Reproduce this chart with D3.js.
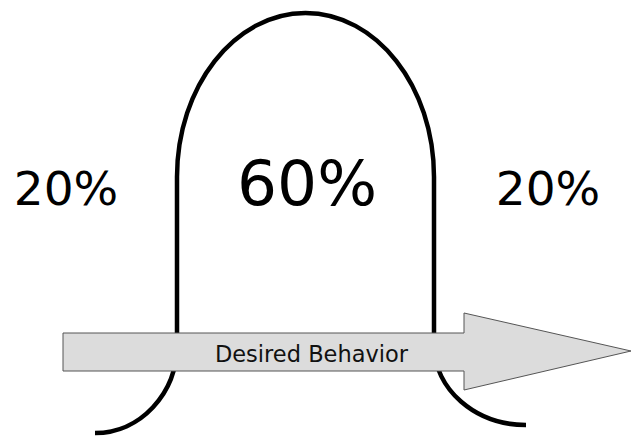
<!DOCTYPE html>
<html>
<head>
<meta charset="utf-8">
<script src="https://cdn.jsdelivr.net/npm/d3@7"></script>
<style>
  html, body { margin: 0; padding: 0; background: #fff; }
  svg { display: block; }
</style>
</head>
<body>
<div id="chart"></div>
<script>
// segments of the population and their shares
const segments = ["left", "middle", "right"];
const shares = [20, 60, 20];
const arrowLabel = "Desired Behavior";

const width = 632;
const height = 437;

const svg = d3.select("#chart")
    .append("svg")
    .attr("width", width)
    .attr("height", height);

// bell outline geometry (pixels)
const bell = {
    left: 177, right: 434, top: 13, shoulder: 177, foot: 345,
    leftEnd: [95, 433], rightEnd: [526, 425]
};
const k = 0.5523;

const p = d3.path();
const cx = (bell.left + bell.right) / 2;
const rx = cx - bell.left;
const ry = bell.shoulder - bell.top;
p.moveTo(bell.leftEnd[0], bell.leftEnd[1]);
p.bezierCurveTo(
    bell.leftEnd[0] + k * (bell.left - bell.leftEnd[0]), bell.leftEnd[1],
    bell.left, bell.foot + k * (bell.leftEnd[1] - bell.foot),
    bell.left, bell.foot);
p.lineTo(bell.left, bell.shoulder);
p.bezierCurveTo(bell.left, bell.shoulder - k * ry, cx - k * rx, bell.top, cx, bell.top);
p.bezierCurveTo(cx + k * rx, bell.top, bell.right, bell.shoulder - k * ry, bell.right, bell.shoulder);
p.lineTo(bell.right, bell.foot);
p.bezierCurveTo(
    bell.right, bell.foot + k * (bell.rightEnd[1] - bell.foot),
    bell.rightEnd[0] - k * (bell.rightEnd[0] - bell.right), bell.rightEnd[1],
    bell.rightEnd[0], bell.rightEnd[1]);

svg.append("path")
    .attr("d", p.toString())
    .attr("fill", "none")
    .attr("stroke", "#000")
    .attr("stroke-width", 4.5);

// percentage labels
const labelX = d3.scalePoint().domain(segments).range([66, 548]);
const labelSize = { left: 47, middle: 63, right: 47 };

svg.selectAll("text.share")
    .data(segments.map((s, i) => ({ s, v: shares[i] })))
    .join("text")
    .attr("class", "share")
    .attr("x", d => labelX(d.s))
    .attr("y", 205)
    .attr("text-anchor", "middle")
    .style("font-family", "'DejaVu Sans', Verdana, sans-serif")
    .style("font-size", d => labelSize[d.s] + "px")
    .attr("fill", "#000")
    .text(d => d.v + "%");

// arrow
const arrow = { x0: 63, x1: 464, tip: 631, y0: 333, y1: 371, h0: 313, h1: 390, ty: 351 };
const arrowPts = [
    [arrow.x0, arrow.y0], [arrow.x1, arrow.y0], [arrow.x1, arrow.h0],
    [arrow.tip, arrow.ty], [arrow.x1, arrow.h1], [arrow.x1, arrow.y1],
    [arrow.x0, arrow.y1]
];
svg.append("path")
    .attr("d", d3.line()(arrowPts) + "Z")
    .attr("fill", "#dcdcdc")
    .attr("stroke", "#555")
    .attr("stroke-width", 1);

svg.append("text")
    .attr("x", 311.5)
    .attr("y", 362)
    .attr("text-anchor", "middle")
    .style("font-family", "'DejaVu Sans', Verdana, sans-serif")
    .style("font-size", "22.5px")
    .attr("fill", "#111")
    .text(arrowLabel);
</script>
</body>
</html>
